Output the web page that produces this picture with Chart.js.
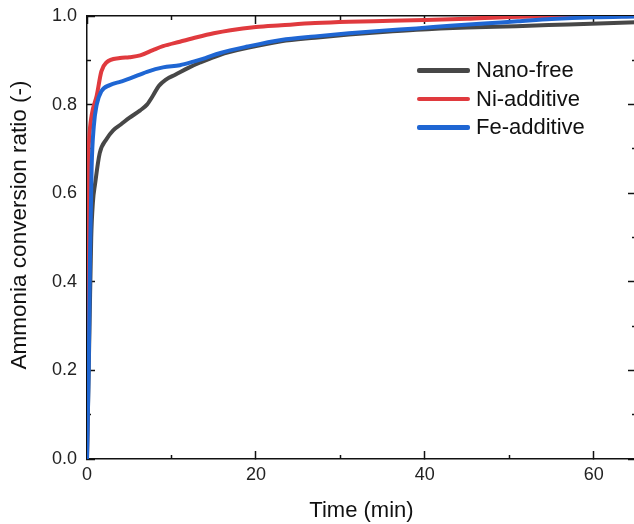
<!DOCTYPE html>
<html>
<head>
<meta charset="utf-8">
<script src="https://cdn.jsdelivr.net/npm/chart.js@4/dist/chart.umd.min.js"></script>
<style>
  html, body { margin: 0; padding: 0; background: #fff; overflow: hidden; }
  #wrap { position: relative; width: 634px; height: 524px; overflow: hidden; }
  canvas { position: absolute; left: 0; top: 0; }
  #legend { position: absolute; left: 417px; top: 56px; font-family: "Liberation Sans", Arial, sans-serif; font-size: 22px; color: #111; }
  .row { display: flex; align-items: center; height: 28.5px; }
  .swatch { width: 53px; height: 4.5px; border-radius: 2px; margin-right: 6px; }
</style>
</head>
<body>
<div id="wrap">
  <canvas id="c" width="640" height="524"></canvas>
  <div id="legend"></div>
</div>
<script>
// Conversion curves: [time (min), ratio]
const seriesNames = ['Nano-free', 'Ni-additive', 'Fe-additive'];
const seriesColors = ['#474747', '#e03a3e', '#1f66d3'];

const nanoFree = [
  [0, 0], [0.3, 0.3], [0.5, 0.5], [0.7, 0.58], [0.95, 0.62], [1.5, 0.69], [2.3, 0.722],
  [3.1, 0.742], [4, 0.755], [5, 0.77], [6.3, 0.787], [7.1, 0.8], [7.8, 0.82], [8.5, 0.842],
  [9.3, 0.856], [10.5, 0.868], [12, 0.883], [13.4, 0.895], [15.7, 0.912], [19, 0.928],
  [23, 0.943], [27, 0.951], [31, 0.958], [35, 0.964], [39, 0.969], [45, 0.974],
  [50.8, 0.977], [57, 0.981], [65, 0.986]
];
const niAdditive = [
  [0, 0], [0.1, 0.35], [0.15, 0.64], [0.25, 0.72], [0.55, 0.776], [1.15, 0.82], [1.7, 0.875],
  [2.3, 0.895], [3.9, 0.905], [5, 0.907], [6.3, 0.911], [7.8, 0.923], [9, 0.932], [11, 0.942],
  [13, 0.952], [15, 0.961], [17, 0.968], [20, 0.975], [23, 0.979], [27, 0.984], [31, 0.987],
  [36, 0.989], [40, 0.991], [45, 0.994], [50, 0.998], [55, 0.999], [65, 1.0]
];
const feAdditive = [
  [0, 0], [0.2, 0.2], [0.35, 0.45], [0.55, 0.66], [0.8, 0.75], [1.15, 0.8], [1.7, 0.83],
  [2.7, 0.844], [4, 0.852], [5.1, 0.859], [7.1, 0.874], [9, 0.884], [11, 0.889], [12.6, 0.897],
  [14, 0.905], [15.7, 0.916], [19, 0.931], [23, 0.946], [27, 0.954], [31, 0.961], [35, 0.967],
  [39, 0.972], [43, 0.978], [47, 0.983], [51, 0.988], [55, 0.993], [60, 0.997], [65, 0.999]
];

const xMajorTicks = [0, 20, 40, 60];
const xMinorTicks = [10, 30, 50];
const yMajorTicks = [0, 0.2, 0.4, 0.6, 0.8, 1.0];
const yMinorTicks = [0.1, 0.3, 0.5, 0.7, 0.9];

const FONT = '"Liberation Sans", Arial, sans-serif';
const INK = '#111';

const curves = [nanoFree, niAdditive, feAdditive];
const drawOrder = [2, 1, 0]; // Fe on top, then Ni, then Nano-free

const datasets = curves.map((pts, i) => ({
  label: seriesNames[i],
  data: pts.map(p => ({ x: p[0], y: p[1] })),
  borderColor: seriesColors[i],
  backgroundColor: seriesColors[i],
  borderWidth: 4,
  pointRadius: 0,
  fill: false,
  cubicInterpolationMode: 'monotone',
  order: drawOrder[i]
}));

function useTicks(values) {
  return scale => { scale.ticks = values.map(v => ({ value: v })); };
}
function fixSize(prop, size) {
  return scale => {
    scale[prop] = size;
    scale.paddingTop = 0; scale.paddingBottom = 0;
    scale.paddingLeft = 0; scale.paddingRight = 0;
  };
}

function axis(opts) {
  const base = {
    type: 'linear',
    grid: {
      drawOnChartArea: false, drawTicks: true,
      tickLength: opts.tickLength, tickColor: INK, tickWidth: 1.5
    },
    border: { display: !!opts.border, color: INK, width: 1.5 },
    ticks: { display: false },
    afterBuildTicks: useTicks(opts.ticks),
    afterFit: fixSize(opts.horizontal ? 'height' : 'width', opts.size),
    weight: opts.weight,
    position: opts.position
  };
  if (opts.horizontal) { base.min = 0; base.max = 65; base.axis = 'x'; }
  else { base.min = 0; base.max = 1.0; base.axis = 'y'; }
  return Object.assign(base, opts.extra || {});
}

const chart = new Chart(document.getElementById('c'), {
  type: 'line',
  data: { datasets },
  options: {
    responsive: false,
    animation: false,
    devicePixelRatio: 1,
    layout: { padding: 0 },
    plugins: { legend: { display: false }, tooltip: { enabled: false } },
    scales: {
      x: axis({
        horizontal: true, position: 'bottom', ticks: xMajorTicks, tickLength: -8,
        border: true, size: 65, weight: 1,
        extra: {
          ticks: {
            display: true, padding: 13, color: '#222', font: { family: FONT, size: 18 },
            callback: v => String(v)
          },
          title: {
            display: true, text: 'Time (min)', color: INK,
            font: { family: FONT, size: 22 }, padding: { top: 4, bottom: 0 }
          }
        }
      }),
      xMinor: axis({ horizontal: true, position: 'bottom', ticks: xMinorTicks, tickLength: -4, size: 0, weight: 0 }),
      xTop: axis({ horizontal: true, position: 'top', ticks: xMajorTicks, tickLength: -8, border: true, size: 16, weight: 1 }),
      xTopMinor: axis({ horizontal: true, position: 'top', ticks: xMinorTicks, tickLength: -4, size: 0, weight: 0 }),
      y: axis({
        horizontal: false, position: 'left', ticks: yMajorTicks, tickLength: -8,
        border: true, size: 87, weight: 1,
        extra: {
          ticks: {
            display: true, padding: 18, color: '#222', font: { family: FONT, size: 18 },
            callback: v => Number(v).toFixed(1)
          },
          title: {
            display: true, text: '    Ammonia conversion ratio (-)', color: INK,
            font: { family: FONT, size: 22.5 }, padding: { top: 6, bottom: 0 }
          }
        }
      }),
      yMinor: axis({ horizontal: false, position: 'left', ticks: yMinorTicks, tickLength: -4, size: 0, weight: 0 }),
      yRight: axis({ horizontal: false, position: 'right', ticks: yMajorTicks, tickLength: -8, border: true, size: 4, weight: 1 }),
      yRightMinor: axis({ horizontal: false, position: 'right', ticks: yMinorTicks, tickLength: -4, size: 0, weight: 0 })
    }
  }
});

// Legend built from the chart's own datasets
const legend = document.getElementById('legend');
chart.data.datasets.forEach(ds => {
  const row = document.createElement('div');
  row.className = 'row';
  const sw = document.createElement('div');
  sw.className = 'swatch';
  sw.style.background = ds.borderColor;
  const label = document.createElement('span');
  label.textContent = ds.label;
  row.appendChild(sw);
  row.appendChild(label);
  legend.appendChild(row);
});
</script>
</body>
</html>
